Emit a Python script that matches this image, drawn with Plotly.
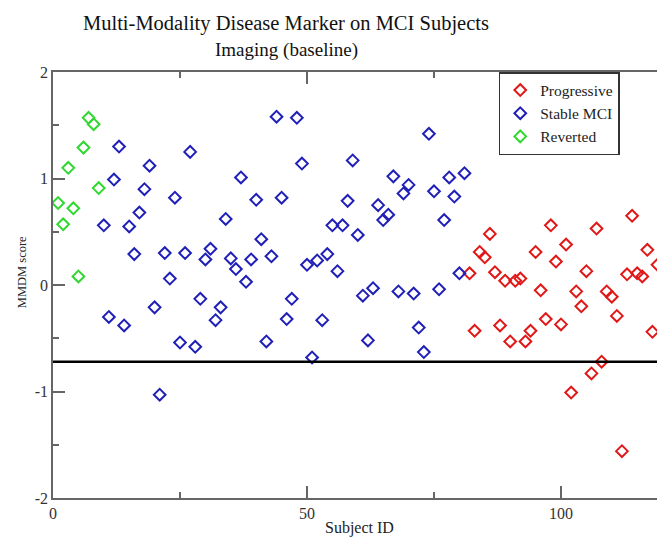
import plotly.graph_objects as go

# ---------------- data ----------------
reverted_ids = list(range(1, 10))
reverted_scores = [0.77, 0.57, 1.10, 0.72, 0.08, 1.29, 1.57, 1.51, 0.91]

stable_ids = list(range(10, 82))
stable_scores = [
    0.56, -0.30, 0.99, 1.30, -0.38, 0.55, 0.29, 0.68, 0.90, 1.12,
    -0.21, -1.03, 0.30, 0.06, 0.82, -0.54, 0.30, 1.25, -0.58, -0.13,
    0.24, 0.34, -0.33, -0.21, 0.62, 0.25, 0.15, 1.01, 0.03, 0.24,
    0.80, 0.43, -0.53, 0.27, 1.58, 0.82, -0.32, -0.13, 1.57, 1.14,
    0.19, -0.68, 0.23, -0.33, 0.29, 0.56, 0.13, 0.56, 0.79, 1.17,
    0.47, -0.10, -0.52, -0.03, 0.75, 0.61, 0.66, 1.02, -0.06, 0.86,
    0.94, -0.08, -0.40, -0.63, 1.42, 0.88, -0.04, 0.61, 1.01, 0.83,
    0.11, 1.05,
]

progressive_ids = list(range(82, 120))
progressive_scores = [
    0.11, -0.43, 0.31, 0.26, 0.48, 0.12, -0.38, 0.04, -0.53, 0.04,
    0.06, -0.53, -0.43, 0.31, -0.05, -0.32, 0.56, 0.22, -0.37, 0.38,
    -1.01, -0.06, -0.20, 0.13, -0.83, 0.53, -0.72, -0.06, -0.11, -0.29,
    -1.56, 0.10, 0.65, 0.11, 0.08, 0.33, -0.44, 0.19,
]

threshold = -0.72

x_ticks = [0, 50, 100]
x_tick_labels = ["0", "50", "100"]
y_ticks = [-2, -1, 0, 1, 2]
y_tick_labels = ["-2", "-1", "0", "1", "2"]

title_text = "Multi-Modality Disease Marker on MCI Subjects"
subtitle_text = "Imaging (baseline)"
x_title = "Subject ID"
y_title = "MMDM score"

FONT = "Liberation Serif"

fig = go.Figure()

series = [
    ("Progressive", progressive_ids, progressive_scores, "#e01818"),
    ("Stable MCI", stable_ids, stable_scores, "#2020b8"),
    ("Reverted", reverted_ids, reverted_scores, "#30d830"),
]
for name, xs, ys, col in series:
    fig.add_trace(go.Scatter(
        x=xs, y=ys, mode="markers", name=name,
        marker=dict(symbol="diamond-open", size=9, color=col,
                    line=dict(width=2, color=col)),
    ))

fig.add_shape(type="line", xref="paper", x0=0, x1=1, yref="y",
              y0=threshold, y1=threshold, line=dict(color="black", width=2.5))

axis_common = dict(
    showgrid=False, zeroline=False, showline=True, linecolor="#666666",
    linewidth=1.5, ticks="inside", ticklen=12, tickwidth=1.5,
    tickcolor="#666666",
    tickfont=dict(family=FONT, size=16, color="#333333"),
)

fig.update_xaxes(
    range=[0, 118.9], tickvals=x_ticks, ticktext=x_tick_labels, mirror="ticks",
    minor=dict(dtick=25, ticks="inside", ticklen=6, tickcolor="#666666", tickwidth=1.5),
    **axis_common,
)
fig.update_yaxes(
    range=[-2, 2], tickvals=y_ticks, ticktext=y_tick_labels,
    minor=dict(dtick=0.5, ticks="inside", ticklen=6, tickcolor="#666666", tickwidth=1.5),
    **axis_common,
)

annotations = [
    dict(text=title_text, xref="paper", yref="paper", x=(286 - 53) / 604, y=1.1127,
         xanchor="center", yanchor="middle", showarrow=False,
         font=dict(family=FONT, size=20.5, color="#111111")),
    dict(text=subtitle_text, xref="paper", yref="paper", x=(286 - 53) / 604, y=1.0516,
         xanchor="center", yanchor="middle", showarrow=False,
         font=dict(family=FONT, size=19, color="#111111")),
    dict(text=x_title, xref="paper", yref="paper", x=(359 - 53) / 604, y=0, yshift=-30,
         xanchor="center", yanchor="middle", showarrow=False,
         font=dict(family=FONT, size=16, color="#222222")),
    dict(text=y_title, xref="paper", yref="paper", x=0, xshift=-31, y=0.53,
         xanchor="center", yanchor="middle", showarrow=False, textangle=-90,
         font=dict(family=FONT, size=12.5, color="#222222")),
]

fig.update_layout(
    width=657, height=538,
    margin=dict(l=53, r=0, t=72, b=40),
    plot_bgcolor="white", paper_bgcolor="white",
    annotations=annotations,
    legend=dict(
        x=0.738, y=1, xanchor="left", yanchor="top",
        bgcolor="white", bordercolor="#333333", borderwidth=1.5,
        font=dict(family=FONT, size=15.5, color="#222222"),
    ),
    showlegend=True,
)

fig.write_html("out.html")
